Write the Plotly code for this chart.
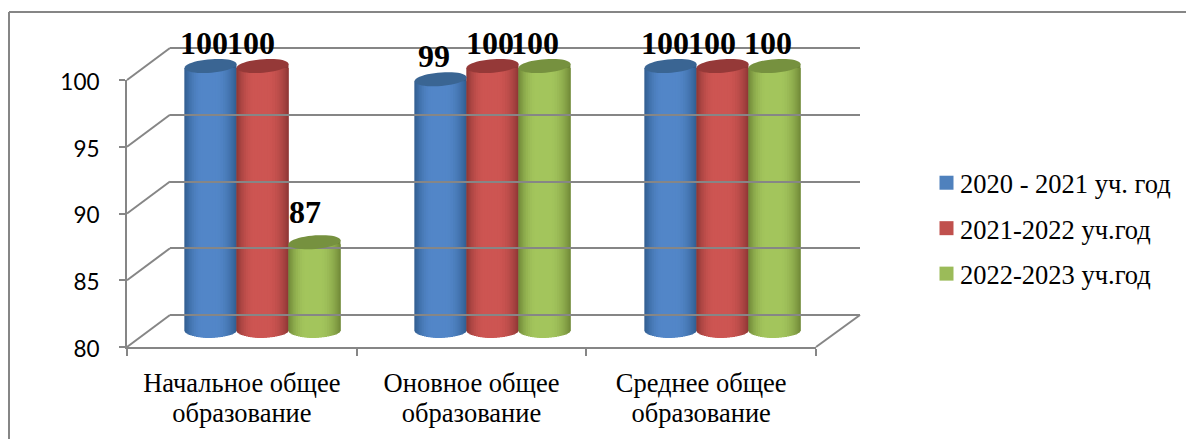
import math
import plotly.graph_objects as go

# ---------- data ----------
category_line1 = ["Начальное общее", "Оновное общее", "Среднее общее"]
category_line2 = ["образование", "образование", "образование"]
series_names = ["2020 - 2021 уч. год", "2021-2022 уч.год", "2022-2023 уч.год"]
values_2020 = [100, 99, 100]
values_2021 = [100, 100, 100]
values_2022 = [86.7, 100, 100]
y_ticks = [80, 85, 90, 95, 100]

# ---------- style ----------
W, H = 1186, 439
GRAY = "#868686"
SERIF = "Liberation Serif"
center_col = [(82, 134, 200), (205, 85, 82), (163, 197, 92)]
edge_col = [(48, 92, 142), (140, 54, 52), (110, 135, 55)]
cap_col = ["#3A6593", "#953938", "#76913F"]
legend_col = ["#4F81BD", "#C0504D", "#9BBB59"]

def hx(p): return p / W
def hy(p): return 1 - p / H

# pixel frames of the three pseudo-3D planes
FRONT = dict(l=127, r=816, b=347, t=80)
BACK = dict(l=170, r=860, b=315, t=48)
BARPX = dict(l=147.5, r=837.5, v80=331.0, per=13.25)   # plane that the cylinders stand in
YLOW, YHIGH = 78, 102
BACK_PER = (BACK["b"] - BACK["t"]) / 20

fig = go.Figure()
all_series = [values_2020, values_2021, values_2022]
positions = list(range(len(category_line1)))
BAR_W = 0.226
RX_UNITS = BAR_W / 2
RY_CAP = 6.8 / BARPX["per"]
RY_FOOT = 7.0 / BARPX["per"]
LEVELS = 16
TILT = 4.0 / BARPX["per"]   # rise of a cap's right end above its left end

# carriers that make the front and back axes render (painted first)
for ax_x, ax_y in (("x", "y"), ("x4", "y"), ("x5", "y")):
    fig.add_trace(go.Scatter(x=positions, y=[80] * 3, mode="markers", marker=dict(opacity=0),
                             showlegend=False, hoverinfo="skip", xaxis=ax_x, yaxis=ax_y))
fig.add_trace(go.Scatter(x=[0, 1], y=[80, 100], mode="markers", marker=dict(opacity=0),
                         showlegend=False, hoverinfo="skip", xaxis="x3", yaxis="y3"))

for s, vals in enumerate(all_series):
    xs = [i + (s - 1) * BAR_W for i in range(len(vals))]
    edge = "rgb(%d,%d,%d)" % edge_col[s]
    # right shoulder: the cap's right end rises above the nested shading below
    fig.add_trace(go.Bar(
        x=xs, y=[v + TILT / 2 - 80 for v in vals], base=[80] * len(vals),
        width=BAR_W * 0.3, offset=BAR_W * 0.2,
        marker=dict(color=edge, line=dict(width=0)),
        xaxis="x2", yaxis="y2", showlegend=False, hoverinfo="skip",
        legendgroup=series_names[s]))
    for k in range(LEVELS):
        th = math.radians(88 * k / (LEVELS - 1))
        f = math.cos(th)
        t = min(1.0, 1 - f ** 3 + 0.05)
        col = "rgb(%d,%d,%d)" % tuple(
            round(edge_col[s][j] + (center_col[s][j] - edge_col[s][j]) * t) for j in range(3))
        base = 80 - RY_FOOT * math.sin(th)
        fig.add_trace(go.Bar(
            x=xs, y=[v - TILT / 2 - base for v in vals], base=[base] * len(vals),
            width=BAR_W * f, offset=-BAR_W / 2 + BAR_W * (1 - f) * 0.46,
            marker=dict(color=col, line=dict(width=0)),
            xaxis="x2", yaxis="y2", showlegend=False, hoverinfo="skip",
            legendgroup=series_names[s]))
    # legend entry
    fig.add_trace(go.Bar(x=[None], y=[None], name=series_names[s], xaxis="x2", yaxis="y2",
                         marker=dict(color=legend_col[s], line=dict(width=0)),
                         legendgroup=series_names[s], showlegend=True))

# cylinder caps, expressed in the bar axes' data units
shapes = []
for s, vals in enumerate(all_series):
    for i, v in enumerate(vals):
        cx = i + (s - 1) * BAR_W
        pts = []
        for d in range(0, 360, 8):
            a = math.radians(d)
            ca, sa = math.cos(a), math.sin(a)
            pts.append((cx + RX_UNITS * ca, v + RY_CAP * sa + ca * TILT / 2))
        path = "M" + "L".join(f"{x:.4f},{y:.4f}" for x, y in pts) + "Z"
        shapes.append(dict(type="path", path=path, xref="x2", yref="y2",
                           fillcolor=cap_col[s], line=dict(width=0), layer="above"))

# chart frame (runs off the page on its right and bottom)
shapes += [
    dict(type="line", xref="paper", yref="paper", x0=hx(9), x1=hx(9), y0=hy(12), y1=0,
         line=dict(color=GRAY, width=2), layer="below"),
    dict(type="line", xref="paper", yref="paper", x0=hx(9), x1=1, y0=hy(12), y1=hy(12),
         line=dict(color=GRAY, width=2), layer="below"),
]
# side-wall and floor edges joining the front plane to the back plane
for v in y_ticks:
    yf = FRONT["b"] - (v - 80) * (FRONT["b"] - FRONT["t"]) / 20
    yb = BACK["b"] - (v - 80) * BACK_PER
    shapes.append(dict(type="line", xref="paper", yref="paper",
                       x0=hx(FRONT["l"]), y0=hy(yf), x1=hx(BACK["l"]), y1=hy(yb),
                       line=dict(color=GRAY, width=2), layer="below"))
shapes.append(dict(type="line", xref="paper", yref="paper",
                   x0=hx(FRONT["r"]), y0=hy(FRONT["b"]), x1=hx(BACK["r"]), y1=hy(BACK["b"]),
                   line=dict(color=GRAY, width=2), layer="below"))

# value labels, placed from the values; small nudges reproduce the source placement
label_dx = [[-7, -12, -9], [-7, -3, -9], [-6, -11, -6]]
label_dy = [[23, 23, 30], [23, 23, 23], [23, 23, 23]]
annotations = []
for s, vals in enumerate(all_series):
    for i, v in enumerate(vals):
        annotations.append(dict(
            x=i + (s - 1) * BAR_W, y=v, xref="x2", yref="y2", text=f"{round(v)}",
            showarrow=False, xshift=label_dx[i][s], yshift=label_dy[i][s],
            xanchor="center", yanchor="middle",
            font=dict(family=SERIF, size=32, color="#000000", weight="bold")))

TICKFONT = dict(family=SERIF, size=26.5, color="#000000")
fig.update_layout(
    template="none",
    width=W, height=H, margin=dict(l=0, r=0, t=0, b=0, autoexpand=False),
    paper_bgcolor="#FFFFFF", plot_bgcolor="rgba(0,0,0,0)",
    barmode="overlay", shapes=shapes, annotations=annotations,
    showlegend=True,
    legend=dict(x=hx(920), y=hy(159), xanchor="left", yanchor="top", bgcolor="rgba(0,0,0,0)",
                font=dict(family=SERIF, size=26.5, color="#000000"),
                tracegroupgap=8, itemclick=False, itemdoubleclick=False),
    # front plane: ticks and axis lines
    xaxis=dict(domain=[hx(FRONT["l"]), hx(FRONT["r"])], range=[-0.5, 2.5],
               tickmode="array", tickvals=[p + 0.5 for p in [-1] + positions], ticktext=[""] * 4,
               ticks="outside", ticklen=7, tickwidth=2, tickcolor=GRAY,
               showline=True, linecolor=GRAY, linewidth=2, showgrid=False, zeroline=False,
               automargin=False, anchor="y"),
    # same plane, tick labels only: both lines sit at the source's line spacing
    xaxis4=dict(domain=[hx(FRONT["l"]), hx(FRONT["r"])], range=[-0.5, 2.5], overlaying="x",
                tickmode="array", tickvals=positions, ticktext=category_line1,
                ticks="", showline=False, showgrid=False, zeroline=False, automargin=False,
                tickfont=TICKFONT, anchor="y", ticklabelstandoff=17),
    xaxis5=dict(domain=[hx(FRONT["l"]), hx(FRONT["r"])], range=[-0.5, 2.5], overlaying="x",
                tickmode="array", tickvals=positions, ticktext=category_line2,
                ticks="", showline=False, showgrid=False, zeroline=False, automargin=False,
                tickfont=TICKFONT, anchor="y", ticklabelstandoff=47),
    yaxis=dict(domain=[hy(FRONT["b"]), hy(FRONT["t"])], range=[80, 100],
               tickvals=y_ticks, ticks="outside", ticklen=6, tickwidth=2, tickcolor=GRAY,
               showline=True, linecolor=GRAY, linewidth=2, showgrid=False, zeroline=False,
               automargin=False, tickfont=dict(family="Lato", size=22.5, color="#000000"),
               anchor="x", ticklabelstandoff=15, ticklabelshift=2),
    # plane the cylinders stand in
    xaxis2=dict(domain=[hx(BARPX["l"]), hx(BARPX["r"])], range=[-0.5, 2.5], visible=False, anchor="y2"),
    yaxis2=dict(domain=[hy(BARPX["v80"] + (80 - YLOW) * BARPX["per"]),
                        hy(BARPX["v80"] - (YHIGH - 80) * BARPX["per"])],
                range=[YLOW, YHIGH], visible=False, anchor="x2"),
    # back wall gridlines (range padded so the 80 and 100 lines are not dropped at the ends)
    xaxis3=dict(domain=[hx(BACK["l"]), hx(BACK["r"])], range=[0, 1], visible=False, anchor="y3"),
    yaxis3=dict(domain=[hy(BACK["b"] + BACK_PER), hy(BACK["t"] - BACK_PER)], range=[79, 101],
                tickvals=y_ticks, showgrid=True, gridcolor=GRAY, gridwidth=2, zeroline=False,
                showline=False, showticklabels=False, ticks="", anchor="x3"),
)

post = """
document.body.style.margin='0';
document.querySelectorAll('.legendpoints').forEach(function(g){
  g.setAttribute('transform',(g.getAttribute('transform')||'')+' translate(6.5,0)');
  g.querySelectorAll('path').forEach(function(p){p.setAttribute('d','M7,7H-7V-7H7Z');});
});
"""
fig.write_html("out.html", post_script=post, config=dict(displayModeBar=False))
